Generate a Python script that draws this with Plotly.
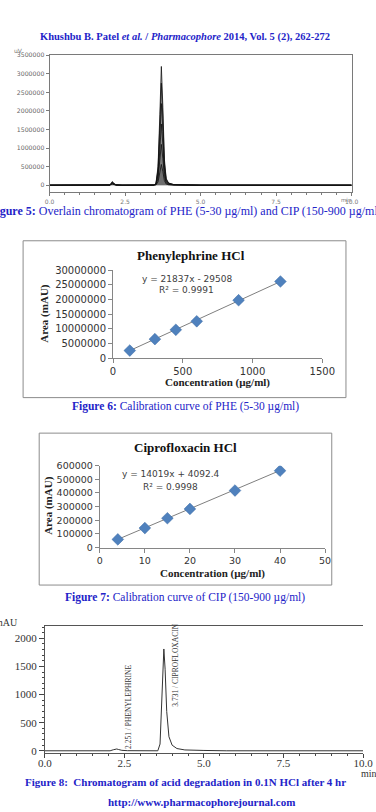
import plotly.graph_objects as go

# ---------------- data ----------------
# Figure 5 : overlain chromatograms (time in min, response in uV)
f5_time = [0.0, 1.90, 2.00, 2.05, 2.08, 2.12, 2.20, 2.40, 3.44, 3.52, 3.59, 3.65, 3.70,
           3.75, 3.80, 3.86, 3.94, 4.10, 4.40, 5.00, 10.0]
f5_run1 = [0, 0, 5000, 70000, 100000, 50000, 12000, 0, 0, 40000, 500000, 1900000, 3200000,
           2100000, 700000, 180000, 60000, 20000, 6000, 0, 0]
f5_run2 = [0, 0, 4000, 60000, 86000, 43000, 10000, 0, 0, 34000, 430000, 1620000, 2750000,
           1800000, 600000, 155000, 52000, 17000, 5000, 0, 0]
f5_run3 = [0, 0, 3000, 50000, 72000, 36000, 8000, 0, 0, 28000, 350000, 1300000, 2200000,
           1450000, 480000, 125000, 42000, 14000, 4000, 0, 0]
f5_run4 = [0, 0, 2500, 40000, 58000, 29000, 6000, 0, 0, 21000, 260000, 960000, 1650000,
           1080000, 360000, 95000, 32000, 11000, 3000, 0, 0]
f5_run5 = [0, 0, 2000, 30000, 44000, 22000, 5000, 0, 0, 14000, 175000, 640000, 1100000,
           720000, 240000, 63000, 21000, 7000, 2000, 0, 0]
f5_run6 = [0, 0, 1000, 18000, 28000, 14000, 3000, 0, 0, 7000, 90000, 330000, 560000,
           370000, 125000, 33000, 11000, 4000, 1000, 0, 0]
f5_runs = [f5_run1, f5_run2, f5_run3, f5_run4, f5_run5, f5_run6]
f5_yticks = [0, 500000, 1000000, 1500000, 2000000, 2500000, 3000000, 3500000]
f5_xticks = [0.0, 2.5, 5.0, 7.5, 10.0]
f5_xticktext = ["0.0", "2.5", "5.0", "7.5", "10.0"]

# Figure 6 : calibration PHE
phe_conc = [120, 300, 450, 600, 900, 1200]
phe_area = [2600000, 6500000, 9700000, 12600000, 19800000, 26200000]
phe_slope, phe_intercept, phe_r2 = 21837, -29508, 0.9991
phe_yticks = [0, 5000000, 10000000, 15000000, 20000000, 25000000, 30000000]
phe_xticks = [0, 500, 1000, 1500]

# Figure 7 : calibration CIP
cip_conc = [4, 10, 15, 20, 30, 40]
cip_area = [60000, 143000, 215000, 283000, 418000, 563000]
cip_slope, cip_intercept, cip_r2 = 14019, 4092.4, 0.9998
cip_yticks = [0, 100000, 200000, 300000, 400000, 500000, 600000]
cip_xticks = [0, 10, 20, 30, 40, 50]

# Figure 8 : acid degradation chromatogram (min, mAU)
f8_time = [0.0, 0.80, 0.88, 0.95, 1.05, 2.05, 2.15, 2.22, 2.26, 2.32, 2.42, 2.60, 3.55, 3.62,
           3.67, 3.71, 3.74, 3.78, 3.83, 3.90, 4.00, 4.15, 4.40, 5.00, 5.60, 5.70, 10.0]
f8_resp = [0, 0, 8, 6, 0, 0, 18, 30, 32, 22, 8, 2, 0, 120,
           800, 1650, 1810, 1450, 700, 250, 100, 40, 15, 6, 4, 0, 0]
f8_peaks_t = [2.251, 3.731]
f8_peaks_name = ["PHENYLEPHRINE", "CIPROFLOXACIN"]
f8_yticks = [0, 500, 1000, 1500, 2000]
f8_xticks = [0.0, 2.5, 5.0, 7.5, 10.0]
f8_xticktext = ["0.0", "2.5", "5.0", "7.5", "10.0"]

# ---------------- helpers (pixel -> paper) ----------------
W, H = 376, 812
def px(x):
    return x / W
def py(y):
    return 1 - y / H

BLUE = "#2323c8"
SERIF = "Liberation Serif"
SANS = "DejaVu Sans"

fig = go.Figure()

# ----- Figure 5 traces -----
for i, run in enumerate(f5_runs):
    fig.add_trace(go.Scatter(x=f5_time, y=run, mode="lines", xaxis="x", yaxis="y",
                             line=dict(color="#111111", width=0.8),
                             fill="tozeroy", fillcolor="rgba(60,60,60,0.2)",
                             showlegend=False, hoverinfo="skip"))

# ----- Figure 6 traces -----
phe_tx = [min(phe_conc), max(phe_conc)]
phe_ty = [phe_slope * v + phe_intercept for v in phe_tx]
fig.add_trace(go.Scatter(x=phe_tx, y=phe_ty, mode="lines", xaxis="x2", yaxis="y2",
                         line=dict(color="#7f7f7f", width=1), showlegend=False))
fig.add_trace(go.Scatter(x=phe_conc, y=phe_area, mode="markers", xaxis="x2", yaxis="y2",
                         marker=dict(symbol="diamond", size=9, color="#4F81BD",
                                     line=dict(color="#3A6AA5", width=0.5)),
                         showlegend=False))

# ----- Figure 7 traces -----
cip_tx = [min(cip_conc), max(cip_conc)]
cip_ty = [cip_slope * v + cip_intercept for v in cip_tx]
fig.add_trace(go.Scatter(x=cip_tx, y=cip_ty, mode="lines", xaxis="x3", yaxis="y3",
                         line=dict(color="#7f7f7f", width=1), showlegend=False))
fig.add_trace(go.Scatter(x=cip_conc, y=cip_area, mode="markers", xaxis="x3", yaxis="y3",
                         marker=dict(symbol="diamond", size=9, color="#4F81BD",
                                     line=dict(color="#3A6AA5", width=0.5)),
                         showlegend=False))

# ----- Figure 8 trace -----
fig.add_trace(go.Scatter(x=f8_time, y=f8_resp, mode="lines", xaxis="x4", yaxis="y4",
                         line=dict(color="#333333", width=1), showlegend=False))

# ---------------- axes ----------------
f5_line = "#7a7a7a"
xl = dict(showgrid=False, zeroline=False)
fig.update_layout(
    width=W, height=H, margin=dict(l=0, r=0, t=0, b=0),
    paper_bgcolor="white", plot_bgcolor="white",
    # Figure 5
    xaxis=dict(domain=[px(45), px(364)], range=[0, 10], anchor="y",
               tickvals=f5_xticks, ticktext=f5_xticktext, ticks="outside", ticklen=3,
               tickcolor=f5_line, showline=True, linecolor=f5_line, linewidth=1, mirror=True,
               tickfont=dict(family=SANS, size=6, color="#777777"),
               minor=dict(dtick=0.5, ticks="outside", ticklen=2, tickcolor=f5_line), **xl),
    yaxis=dict(domain=[py(189), py(50)], range=[-195000, 3500000], anchor="x",
               tickvals=f5_yticks, tickformat="d", ticks="outside", ticklen=3,
               tickcolor=f5_line, showline=True, linecolor=f5_line, linewidth=1, mirror=True,
               tickfont=dict(family=SANS, size=6.2, color="#666666"), **xl),
    # Figure 6
    xaxis2=dict(domain=[px(112), px(333)], range=[0, 1500], anchor="y2",
                tickvals=phe_xticks, tickformat="d", ticks="outside", ticklen=4,
                tickcolor="#868686", showline=True, linecolor="#868686", linewidth=1,
                tickfont=dict(family=SANS, size=10, color="#333333"), **xl),
    yaxis2=dict(domain=[py(357), py(268)], range=[0, 30000000], anchor="x2",
                tickvals=phe_yticks, tickformat="d", ticks="outside", ticklen=4,
                tickcolor="#868686", showline=True, linecolor="#868686", linewidth=1,
                tickfont=dict(family=SANS, size=10, color="#333333"), **xl),
    # Figure 7
    xaxis3=dict(domain=[px(98), px(336)], range=[0, 50], anchor="y3",
                tickvals=cip_xticks, tickformat="d", ticks="outside", ticklen=4,
                tickcolor="#868686", showline=True, linecolor="#868686", linewidth=1,
                tickfont=dict(family=SANS, size=9.5, color="#333333"), **xl),
    yaxis3=dict(domain=[py(549), py(466)], range=[0, 600000], anchor="x3",
                tickvals=cip_yticks, tickformat="d", ticks="outside", ticklen=4,
                tickcolor="#868686", showline=True, linecolor="#868686", linewidth=1,
                tickfont=dict(family=SANS, size=9.5, color="#333333"), **xl),
    # Figure 8
    xaxis4=dict(domain=[px(40), 1], range=[0, 10.0], anchor="y4",
                tickvals=f8_xticks, ticktext=f8_xticktext, ticks="outside", ticklen=4,
                ticklabelstandoff=-4,
                tickcolor="#444444", showline=True, linecolor="#555555", linewidth=1,
                mirror=True, tickfont=dict(family=SERIF, size=11, color="#333333"),
                minor=dict(dtick=0.5, ticks="outside", ticklen=2, tickcolor="#444444"), **xl),
    yaxis4=dict(domain=[py(757.3), py(629)], range=[-40, 2210], anchor="x4",
                tickvals=f8_yticks, ticks="outside", ticklen=5, tickcolor="#444444",
                showline=True, linecolor="#555555", linewidth=1,
                tickfont=dict(family=SERIF, size=11, color="#333333"),
                minor=dict(dtick=100, ticks="outside", ticklen=2, tickcolor="#444444"), **xl),
)

# ---------------- shapes (chart borders) ----------------
fig.add_shape(type="rect", xref="paper", yref="paper", x0=px(17), x1=px(358),
              y0=py(397), y1=py(238), line=dict(color="#8c8c8c", width=1))
fig.add_shape(type="rect", xref="paper", yref="paper", x0=px(34), x1=px(343),
              y0=py(587), y1=py(433), line=dict(color="#8c8c8c", width=1))

# ---------------- annotations ----------------
def note(text, x, y, size, color="#333333", family=SERIF, xanchor="center",
         yanchor="middle", angle=0, **kw):
    fig.add_annotation(text=text, x=px(x), y=py(y), xref="paper", yref="paper",
                       showarrow=False, xanchor=xanchor, yanchor=yanchor, textangle=angle,
                       font=dict(family=family, size=size, color=color), **kw)

note("<b>Khushbu B. Patel</b> <b><i>et al.</i></b> <b>/ <i>Pharmacophore</i> 2014, Vol. 5 (2), 262-272</b>",
     188, 31, 10.5, color=BLUE)
note("uV", 12, 45, 6, color="#777777", family=SANS)
note("min", 359, 197, 5.5, color="#777777", family=SANS)
note("<b>Figure 5:</b> Overlain chromatogram of PHE (5-30 µg/ml) and CIP (150-900 µg/ml)",
     188, 208, 12, color=BLUE)

note("<b>Phenylephrine HCl</b>", 194, 253, 13, color="#111111")
note("y = 21837x - 29508", 190, 277, 9, color="#404040", family=SANS)
note("R² = 0.9991", 190, 288, 9, color="#404040", family=SANS)
note("<b>Concentration (µg/ml)</b>", 222, 382, 11, color="#222222")
note("<b>Area (mAU)</b>", 40, 312, 11, color="#222222", angle=-90)
note("<b>Figure 6:</b> Calibration curve of PHE (5-30 µg/ml)", 188, 406, 11.5, color=BLUE)

note("<b>Ciprofloxacin HCl</b>", 188, 448, 13, color="#111111")
note("y = 14019x + 4092.4", 173, 474, 9, color="#404040", family=SANS)
note("R² = 0.9998", 173, 488, 9, color="#404040", family=SANS)
note("<b>Concentration (µg/ml)</b>", 217, 575, 11, color="#222222")
note("<b>Area (mAU)</b>", 43, 507, 11, color="#222222", angle=-90)
note("<b>Figure 7:</b> Calibration curve of CIP (150-900 µg/ml)", 188, 600, 11.5, color=BLUE)

note("mAU", 14, 625, 10, color="#333333", xanchor="right")
note("min", 372, 778, 10, color="#333333", xanchor="left")
for t, name, ybase in zip(f8_peaks_t, f8_peaks_name, [5, 750]):
    fig.add_annotation(text=f"{t:.3f} / {name}", x=t, y=ybase, xref="x4", yref="y4",
                       xshift=12, showarrow=False, textangle=-90, yanchor="bottom",
                       font=dict(family=SERIF, size=7.5, color="#333333"))
note("<b>Figure 8:  Chromatogram of acid degradation in 0.1N HCl after 4 hr</b>",
     188, 787, 11, color=BLUE)
note("<b>http://www.pharmacophorejournal.com</b>", 205, 807, 11, color=BLUE)

fig.write_html("out.html")
